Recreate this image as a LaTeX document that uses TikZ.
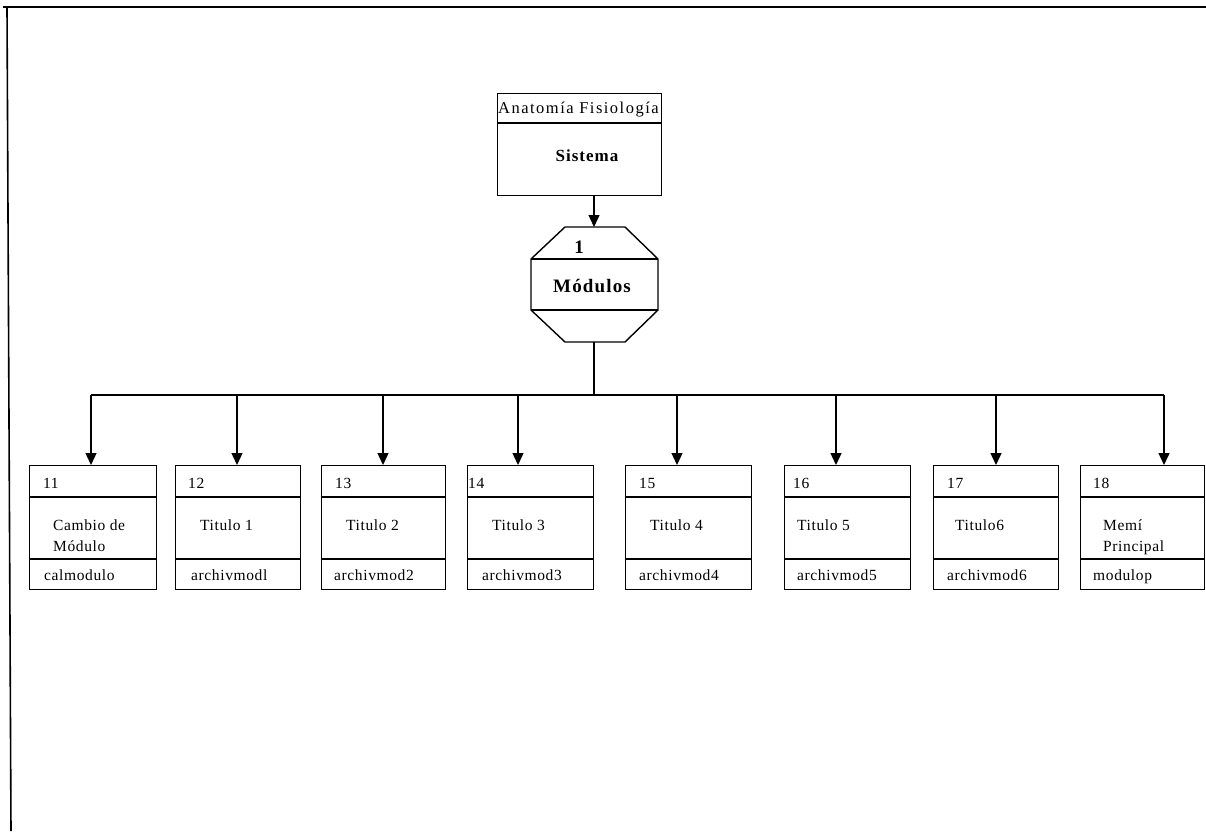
\documentclass[tikz,border=0pt]{standalone}
\usepackage{fontspec}
\setmainfont{Liberation Serif}
\usetikzlibrary{arrows.meta}
\tikzset{
  frame/.style={line width=1.6pt, draw=black},
  boxline/.style={line width=1.4pt, draw=black},
  arr/.style={line width=1.3pt, -{Triangle[length=12pt,width=11pt]}},
  conn/.style={line width=1.1pt},
  txt/.style={font=\fontsize{15.5}{21}\selectfont\addfontfeature{LetterSpace=4}, inner sep=0pt},
  btxt/.style={font=\fontsize{19}{22}\selectfont\bfseries\addfontfeature{LetterSpace=6}, inner sep=0pt},
}
% name, left, right, number, numoffset, middle, midoffset, bottom, botoffset
\newcommand\modulebox[9]{%
  \node[boxline, rectangle, anchor=north west, minimum width={#3pt-#2pt}, minimum height=124pt, inner sep=0pt] (#1) at (#2,465) {};
  \draw[boxline] (#2,497) -- (#3,497);
  \draw[boxline] (#2,559) -- (#3,559);
  \node[txt, anchor=base west] (#1num) at (#2+#5,488) {#4};
  \node[txt, anchor=north west, align=left] (#1mid) at (#2+#7,520) {#6};
  \node[txt, anchor=base west] (#1bot) at (#2+#9,580) {#8};
}
\begin{document}
\begin{tikzpicture}[x=1pt,y=-1pt]
\useasboundingbox (0,0) rectangle (1206,831);
% outer frame (top and left only)
\draw[frame] (3,7) -- (1206,7);
\draw[frame] (7,7) -- (11,831);

% top box
\node[boxline, rectangle, anchor=north west, minimum width=164pt, minimum height=102pt, inner sep=0pt] (sys) at (497,93) {};
\draw[boxline] (497,123) -- (661,123);
\node[txt, anchor=base west, font=\fontsize{16.5}{20}\selectfont\addfontfeature{LetterSpace=9}] (systitle) at (498,113) {Anatomía Fisiología};
\node[btxt, anchor=center, font=\fontsize{17}{20}\selectfont\bfseries\addfontfeature{LetterSpace=6}] (syslabel) at (587,156) {Sistema};

% octagon
\draw[boxline] (565,227) -- (625,227) -- (658,259) -- (658,310) -- (625,342) -- (565,342) -- (531,310) -- (531,259) -- cycle;
\draw[boxline] (531,259) -- (658,259);
\draw[boxline] (531,310) -- (658,310);
\coordinate (octtop) at (594,227);
\coordinate (octbot) at (594,342);
\node[btxt, anchor=center] (octnum) at (579,247) {1};
\node[btxt, anchor=center] (octlabel) at (592,286) {Módulos};

\draw[arr] (sys.south -| octtop) -- (octtop);

% bus
\coordinate (bus) at (594,395);
\coordinate (b1) at (91,395);
\coordinate (b8) at (1164,395);
\draw[conn] (octbot) -- (bus);
\draw[conn] (b1) -- (b8);

\modulebox{m11}{29}{156}{11}{14}{Cambio de\\Módulo}{24}{calmodulo}{15}
\modulebox{m12}{175}{300}{12}{13}{Titulo 1}{25}{archivmodl}{16}
\modulebox{m13}{321}{445}{13}{14}{Titulo 2}{25}{archivmod2}{13}
\modulebox{m14}{467}{593}{14}{1}{Titulo 3}{25}{archivmod3}{15}
\modulebox{m15}{625}{751}{15}{14}{Titulo 4}{25}{archivmod4}{14}
\modulebox{m16}{784}{910}{16}{9}{Titulo 5}{13}{archivmod5}{13}
\modulebox{m17}{933}{1058}{17}{14}{Titulo6}{22}{archivmod6}{14}
\modulebox{m18}{1080}{1204}{18}{13}{Memí\\Principal}{23}{modulop}{13}

\foreach \x/\n in {91/m11,237/m12,383/m13,518/m14,677/m15,836/m16,996/m17,1164/m18}{
  \coordinate (c\n) at (\x,395);
  \draw[arr] (c\n) -- (c\n |- \n.north);
}
\end{tikzpicture}
\end{document}
